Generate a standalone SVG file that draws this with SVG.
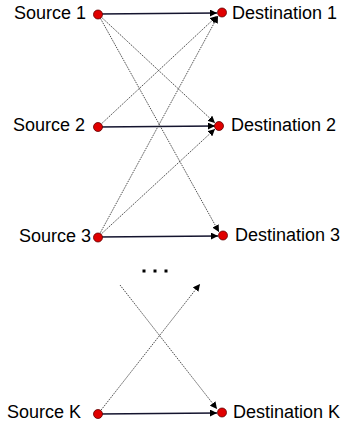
<svg xmlns="http://www.w3.org/2000/svg" width="345" height="428" viewBox="0 0 345 428">
<defs>
<style>
.lbl{font-family:"Liberation Sans",Arial,sans-serif;font-size:18px;fill:#000}
.dot{fill:#e00000;stroke:#600000;stroke-width:0.8}
.solid{stroke:#14142e;stroke-width:1.6;fill:none}
.dash{stroke:#222;stroke-width:0.8;stroke-dasharray:1.5 1;fill:none}
</style>
<marker id="ah" viewBox="0 0 10 10" refX="10" refY="5" markerWidth="7" markerHeight="7" markerUnits="userSpaceOnUse" orient="auto">
<path d="M0,0 L10,5 L0,10 z" fill="#000"/>
</marker>
</defs>
<g id="connectors">
<line class="solid" x1="98" y1="14" x2="217" y2="13" marker-end="url(#ah)"/>
<line class="solid" x1="98" y1="127" x2="215" y2="126" marker-end="url(#ah)"/>
<line class="solid" x1="98" y1="237" x2="218" y2="236" marker-end="url(#ah)"/>
<line class="solid" x1="98" y1="414" x2="217" y2="413" marker-end="url(#ah)"/>
<line class="dash" x1="98" y1="14" x2="215" y2="123" marker-end="url(#ah)"/>
<line class="dash" x1="98" y1="14" x2="219" y2="232" marker-end="url(#ah)"/>
<line class="dash" x1="98" y1="127" x2="217" y2="16" marker-end="url(#ah)"/>
<line class="dash" x1="98" y1="237" x2="218" y2="16" marker-end="url(#ah)"/>
<line class="dash" x1="98" y1="237" x2="215" y2="129" marker-end="url(#ah)"/>
<line class="dash" x1="120" y1="285" x2="217" y2="409" marker-end="url(#ah)"/>
<line class="dash" x1="98" y1="414" x2="200" y2="284" marker-end="url(#ah)"/>
</g>
<g id="source1"><circle class="dot" cx="98" cy="14.5" r="4.5"/><text class="lbl" x="14" y="19">Source 1</text></g>
<g id="source2"><circle class="dot" cx="98" cy="127" r="4.5"/><text class="lbl" x="13" y="131">Source 2</text></g>
<g id="source3"><circle class="dot" cx="98" cy="237.5" r="4.5"/><text class="lbl" x="19" y="242">Source 3</text></g>
<g id="sourceK"><circle class="dot" cx="98" cy="414" r="4.5"/><text class="lbl" x="7" y="418">Source K</text></g>
<g id="dest1"><circle class="dot" cx="222" cy="12.5" r="4.5"/><text class="lbl" x="232" y="19">Destination 1</text></g>
<g id="dest2"><circle class="dot" cx="219" cy="126" r="4.5"/><text class="lbl" x="231" y="131">Destination 2</text></g>
<g id="dest3"><circle class="dot" cx="223" cy="235.5" r="4.5"/><text class="lbl" x="235" y="241">Destination 3</text></g>
<g id="destK"><circle class="dot" cx="222" cy="412.5" r="4.5"/><text class="lbl" x="233" y="418">Destination K</text></g>
<g id="ellipsis" fill="#000">
<rect x="142.5" y="269.5" width="3" height="3"/>
<rect x="153.5" y="269.5" width="3" height="3"/>
<rect x="164.5" y="269.5" width="3" height="3"/>
</g>
</svg>
